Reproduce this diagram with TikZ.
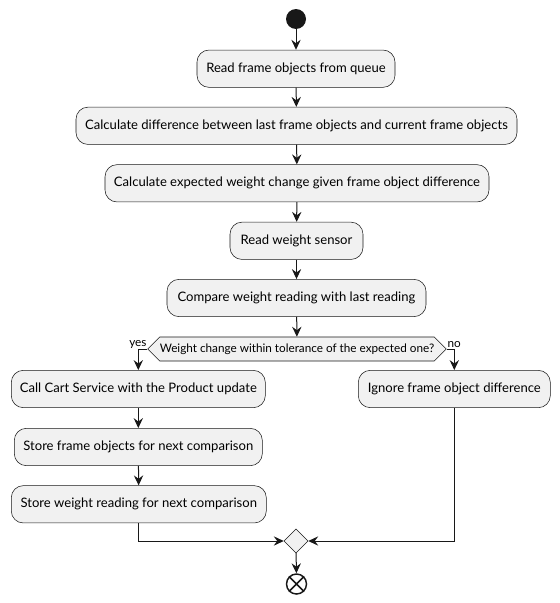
\documentclass[tikz,border=0pt]{standalone}
\usepackage{fontspec}
\setmainfont{Lato}
\usepackage{tikz}
\usetikzlibrary{arrows.meta, shapes.geometric, shapes.symbols}
\definecolor{boxfill}{HTML}{F1F1F1}
\definecolor{boxline}{HTML}{181818}
\tikzstyle{act} = [rectangle, draw=boxline, fill=boxfill, rounded corners=9pt,
                 line width=0.4pt, minimum height=28pt, inner sep=0pt,
                 font=\fontsize{9.8pt}{11pt}\selectfont]
\tikzstyle{flow} = [draw=boxline, line width=0.75pt,
                 -{Stealth[length=7.5pt, width=7pt, inset=2.6pt]}]

\begin{document}
\begin{tikzpicture}[x=0.75pt, y=-0.75pt]
\useasboundingbox (0,0) rectangle (560,603);

\node [circle, fill=boxline, minimum size=15pt, inner sep=0pt] at (296,19) (start) {};

\node [act, minimum width=148.5pt] at (296,68.7) (readq) {Read frame objects from queue};
\node [act, minimum width=330.75pt] at (296.5,125.8) (diff) {Calculate difference between last frame objects and current frame objects};
\node [act, minimum width=288pt] at (297,183.3) (expect) {Calculate expected weight change given frame object difference};
\node [act, minimum width=99.75pt] at (296.5,240.8) (sensor) {Read weight sensor};
\node [act, minimum width=194.25pt] at (296.5,298) (compare) {Compare weight reading with last reading};

\node [signal, signal to=west and east, signal pointer angle=90, draw=boxline,
       fill=boxfill, line width=0.4pt, minimum width=222.75pt, minimum height=18pt,
       inner sep=0pt, font=\fontsize{8.8pt}{10pt}\selectfont] at (297,349) (check)
      {Weight change within tolerance of the expected one?};

\node [act, minimum width=190.5pt] at (138.3,389) (cart) {Call Cart Service with the Product update};
\node [act, minimum width=186pt] at (138.3,447) (storef) {Store frame objects for next comparison};
\node [act, minimum width=191.25pt] at (138.8,504.3) (storew) {Store weight reading for next comparison};
\node [act, minimum width=144pt] at (454.3,389) (ignore) {Ignore frame object difference};

\node [diamond, draw=boxline, fill=boxfill, line width=0.4pt, minimum size=18pt,
       inner sep=0pt] at (296,541) (merge) {};
\node [circle, draw=boxline, line width=1.1pt, minimum size=15pt, inner sep=0pt]
      at (296.5,584) (stop) {};
\draw [boxline, line width=1.1pt] (stop.north west) -- (stop.south east)
      (stop.north east) -- (stop.south west);

\node [anchor=south east, inner sep=0.5pt, font=\fontsize{8.8pt}{10pt}\selectfont]
      at (check.west) (yes) {yes};
\node [anchor=south west, inner sep=0.5pt, font=\fontsize{8.8pt}{10pt}\selectfont]
      at (check.east) (no) {no};

\foreach \a/\b in {start/readq, readq/diff, diff/expect, expect/sensor,
                   sensor/compare, compare/check, cart/storef, storef/storew, merge/stop}
	\path [flow] (\a) -- (\b);

\path [flow] (check.west) -| (cart.north);
\path [flow] (check.east) -| (ignore.north);
\path [flow] (storew.south) |- (merge.west);
\path [flow] (ignore.south) |- (merge.east);

\end{tikzpicture}
\end{document}
